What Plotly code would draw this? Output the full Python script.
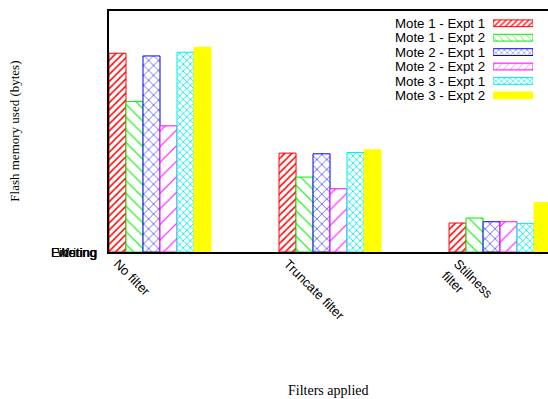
import plotly.graph_objects as go

categories = ["No filter", "Truncate filter", "Stillness<br>filter"]
series_names = ["Mote 1 - Expt 1", "Mote 1 - Expt 2", "Mote 2 - Expt 1",
                "Mote 2 - Expt 2", "Mote 3 - Expt 1", "Mote 3 - Expt 2"]
mote1_expt1 = [1990, 990, 290]
mote1_expt2 = [1506, 750, 340]
mote2_expt1 = [1963, 983, 303]
mote2_expt2 = [1263, 633, 303]
mote3_expt1 = [2000, 996, 286]
mote3_expt2 = [2050, 1023, 496]
ytick_labels = ["Existing", "Writing", "Filtering"]

series_values = [mote1_expt1, mote1_expt2, mote2_expt1, mote2_expt2, mote3_expt1, mote3_expt2]
colors = ["#ff0000", "#00ee00", "#0000ff", "#ff00ff", "#00eeee", "#ffff00"]
shapes = ["/", "\\", "x", "/", "x", ""]
psizes = [5, 9, 7, 11, 5, 8]
solid = [0.3, 0.12, 0.15, 0.09, 0.3, 0.3]

xpos = list(range(len(categories)))
fig = go.Figure()
for name, vals, c, sh, ps, so in zip(series_names, series_values, colors, shapes, psizes, solid):
    fig.add_trace(go.Bar(
        x=xpos, y=vals, name=name, showlegend=False,
        marker=dict(color=c, line=dict(color=c, width=1),
                    pattern=dict(shape=sh, fgcolor=c, bgcolor="white" if sh else c,
                                 size=ps, solidity=so, fillmode="replace")),
        xaxis="x", yaxis="y"))

# legend samples drawn on an auxiliary axis
fig.add_trace(go.Bar(
    y=series_names, x=[1] * len(series_names), orientation="h", showlegend=False,
    marker=dict(color=colors, line=dict(color=colors, width=1),
                pattern=dict(shape=shapes, fgcolor=colors,
                             bgcolor=["white" if s else c for s, c in zip(shapes, colors)],
                             size=[4, 5, 4, 5, 4, 4], solidity=solid, fillmode="replace")),
    xaxis="x2", yaxis="y2", width=0.47))

annotations = [
    dict(text="Flash memory used (bytes)", xref="paper", yref="paper",
         x=-0.216, y=0.5, xanchor="center", yanchor="middle", textangle=-90, showarrow=False,
         font=dict(family="Liberation Serif, Times New Roman", size=13)),
    dict(text="Filters applied", xref="paper", yref="paper",
         x=0.5, y=-0.575, xanchor="center", yanchor="middle", showarrow=False,
         font=dict(family="Liberation Serif, Times New Roman", size=14)),
]
for t in ytick_labels:
    annotations.append(dict(text=t, xref="paper", yref="y", x=-0.022, y=0,
                            xanchor="right", yanchor="middle", showarrow=False,
                            font=dict(size=13)))

fig.update_layout(
    width=548, height=399,
    margin=dict(l=109, r=0, t=11, b=147, autoexpand=False),
    paper_bgcolor="white", plot_bgcolor="white",
    barmode="group", bargap=0.4, bargroupgap=0,
    font=dict(family="Liberation Sans, Arial", size=13, color="black"),
    xaxis=dict(range=[-0.3, 2.282], tickmode="array",
               tickvals=[p - 0.25 for p in xpos], ticktext=categories,
               tickangle=45, ticks="", showgrid=False, zeroline=False,
               showline=True, linewidth=2, linecolor="black", mirror=True,
               ticklabelstandoff=-3, automargin=False,
               tickfont=dict(size=13)),
    yaxis=dict(range=[0, 2413], showticklabels=False,
               ticks="", showgrid=False, zeroline=False,
               showline=True, linewidth=2, linecolor="black"),
    xaxis2=dict(domain=[0.875, 0.966], range=[0, 1], anchor="y2",
                visible=False),
    yaxis2=dict(domain=[0.620, 0.979], anchor="x2", autorange="reversed",
                type="category", tickmode="array", tickvals=series_names,
                showgrid=False, zeroline=False, showline=False,
                ticks="", ticklabelstandoff=7, tickfont=dict(size=13.3)),
    annotations=annotations,
)

fig.write_html("out.html")
